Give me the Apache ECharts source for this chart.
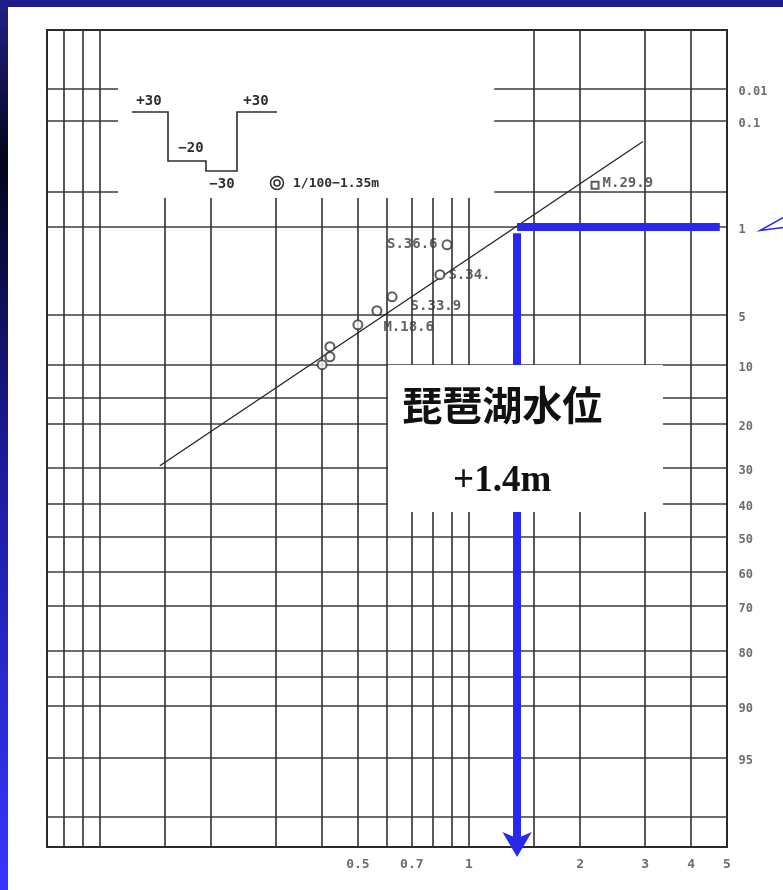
<!DOCTYPE html>
<html>
<head>
<meta charset="utf-8">
<title>琵琶湖水位 確率紙</title>
<script src="https://cdn.jsdelivr.net/npm/echarts@6/dist/echarts.min.js"></script>
<style>
  html, body { margin: 0; padding: 0; background: #ffffff; }
  #chart { width: 783px; height: 890px; }
</style>
</head>
<body>
<div id="chart"></div>
<script>
// ---- probability paper rulings ----
// water level axis (m, log ruled)
const xRulesFull  = [0.08, 0.09, 0.1, 1.5, 2, 3, 4];
const xRulesShort = [0.15, 0.2, 0.3, 0.4, 0.5, 0.6, 0.7, 0.8, 0.9, 1];
const xTickValues = [0.5, 0.7, 1, 2, 3, 4, 5];
const xTickLabels = ['0.5', '0.7', '1', '2', '3', '4', '5'];

// exceedance probability rulings (%), expressed as standard-normal scores of the paper
const yRuleLabels = ['0.01', '0.1', '', '1', '5', '10', '', '20', '30', '40', '50', '60', '70', '80', '', '90', '95', ''];
const yRuleScores = [3.361, 3.121, 2.588, 2.326, 1.665, 1.290, 1.043, 0.848, 0.518, 0.248, 0, -0.263, -0.518, -0.855, -1.050, -1.268, -1.658, -2.100];

// ---- observed annual maxima: [level m, exceedance %] ----
const obsLevel = [0.400, 0.420, 0.420, 0.500, 0.563, 0.619, 0.834, 0.872];
const obsExceed = [9.85, 8.85, 7.7, 5.6, 4.5, 3.6, 2.47, 1.43];
const obsNames  = ['', '', '', '', 'M.18.6', 'S.33.9', 'S.34.', 'S.36.6'];

const maxLevel = [2.195];
const maxExceed = [0.42];
const maxNames = ['M.29.9'];

// fitted line end points: [level m, exceedance %]
const fitLevel = [0.1454, 2.96];
const fitExceed = [29.7, 0.152];

// design level at 1/100
const designExceed = 1;
const designLevel = 1.35;

// ---- axis extents ----
const X_MIN = 0.0719, X_MAX = 5;
const Z_MIN = -2.326, Z_MAX = 3.80;
// blank area of the sheet holding the key sketch
const keyArea = { x0: 0.112, x1: 1.17, z0: 2.54 };

// inverse standard normal CDF (Acklam)
function normInv(p) {
  const a = [-3.969683028665376e+01, 2.209460984245205e+02, -2.759285104469687e+02, 1.383577518672690e+02, -3.066479806614716e+01, 2.506628277459239e+00];
  const b = [-5.447609879822406e+01, 1.615858368580409e+02, -1.556989798598866e+02, 6.680131188771972e+01, -1.328068155288572e+01];
  const c = [-7.784894002430293e-03, -3.223964580411365e-01, -2.400758277161838e+00, -2.549732539343734e+00, 4.374664141464968e+00, 2.938163982698783e+00];
  const d = [7.784695709041462e-03, 3.224671290700398e-01, 2.445134137142996e+00, 3.754408661907416e+00];
  const pl = 0.02425;
  let q, r;
  if (p < pl) {
    q = Math.sqrt(-2 * Math.log(p));
    return (((((c[0]*q+c[1])*q+c[2])*q+c[3])*q+c[4])*q+c[5]) / ((((d[0]*q+d[1])*q+d[2])*q+d[3])*q+1);
  }
  if (p > 1 - pl) {
    q = Math.sqrt(-2 * Math.log(1 - p));
    return -(((((c[0]*q+c[1])*q+c[2])*q+c[3])*q+c[4])*q+c[5]) / ((((d[0]*q+d[1])*q+d[2])*q+d[3])*q+1);
  }
  q = p - 0.5; r = q * q;
  return (((((a[0]*r+a[1])*r+a[2])*r+a[3])*r+a[4])*r+a[5])*q / (((((b[0]*r+b[1])*r+b[2])*r+b[3])*r+b[4])*r+1);
}
// exceedance % -> score on the paper (rare events at the top)
const score = pct => -normInv(pct / 100);

// ---- grid segments ----
const gridSegs = [];
xRulesFull.forEach(v => gridSegs.push({ coords: [[v, Z_MIN], [v, Z_MAX]] }));
xRulesShort.forEach(v => gridSegs.push({ coords: [[v, Z_MIN], [v, keyArea.z0]] }));
yRuleScores.forEach(z => {
  if (z > keyArea.z0) {
    gridSegs.push({ coords: [[X_MIN, z], [keyArea.x0, z]] });
    gridSegs.push({ coords: [[keyArea.x1, z], [X_MAX, z]] });
  } else {
    gridSegs.push({ coords: [[X_MIN, z], [X_MAX, z]] });
  }
});

const MONO = '"DejaVu Sans Mono", "Liberation Mono", monospace';
const INK = '#2e2e2e';
const BLUE = '#2727f0';
const HIDDEN = 'rgba(0,0,0,0)';

const obsData = obsLevel.map((v, i) => {
  const item = { value: [v, score(obsExceed[i])], name: obsNames[i] };
  if (obsNames[i] === 'S.36.6') item.label = { show: true, position: 'left', distance: 4 };
  if (obsNames[i] === 'S.34.') item.label = { show: true, position: 'right', distance: 3, offset: [0, 1] };
  if (obsNames[i] === 'S.33.9') item.label = { show: true, position: 'right', distance: 5, offset: [8, 10] };
  if (obsNames[i] === 'M.18.6') item.label = { show: true, position: 'right', distance: 5, offset: [-4, 17] };
  return item;
});
const maxData = maxLevel.map((v, i) => ({ value: [v, score(maxExceed[i])], name: maxNames[i] }));

const zDesign = score(designExceed);

const chart = echarts.init(document.getElementById('chart'), null, { renderer: 'canvas' });

const option = {
  backgroundColor: '#ffffff',
  animation: false,
  grid: {
    left: 47, top: 30, right: 56, bottom: 43,
    show: true, borderColor: '#2a2a2a', borderWidth: 2, backgroundColor: 'transparent'
  },
  xAxis: {
    type: 'log', logBase: 10, min: X_MIN, max: X_MAX,
    axisLine: { show: false }, axisTick: { show: false }, axisLabel: { show: false }, splitLine: { show: false }
  },
  yAxis: {
    type: 'value', min: Z_MIN, max: Z_MAX,
    axisLine: { show: false }, axisTick: { show: false }, axisLabel: { show: false }, splitLine: { show: false }
  },
  series: [
    {
      name: 'rulings', type: 'lines', coordinateSystem: 'cartesian2d', silent: true, z: 1,
      lineStyle: { color: '#333333', width: 1.7, opacity: 0.95 },
      data: gridSegs
    },
    {
      name: 'fit', type: 'line', silent: true, z: 3, symbol: 'none',
      lineStyle: { color: '#222', width: 1.3 },
      data: fitLevel.map((v, i) => [v, score(fitExceed[i])])
    },
    {
      name: 'observed', type: 'scatter', z: 4, symbol: 'emptyCircle', symbolSize: 9,
      itemStyle: { color: '#333', borderWidth: 1.3 },
      label: {
        show: false, formatter: '{b}', color: '#3a3a3a', fontFamily: MONO, fontSize: 14, fontWeight: 'bold'
      },
      data: obsData
    },
    {
      name: 'record', type: 'scatter', z: 4, symbol: 'emptyRect', symbolSize: 7,
      itemStyle: { color: '#333', borderWidth: 1.2 },
      label: {
        show: true, position: 'right', distance: 3, offset: [0, -2], formatter: '{b}',
        color: '#3a3a3a', fontFamily: MONO, fontSize: 14, fontWeight: 'bold'
      },
      data: maxData
    },
    {
      name: 'prob labels', type: 'scatter', silent: true, symbol: 'circle', symbolSize: 1, clip: false, z: 5,
      itemStyle: { color: HIDDEN },
      label: {
        show: true, position: 'right', distance: 11, offset: [0, 3], formatter: '{b}',
        color: '#474747', fontFamily: MONO, fontSize: 12, fontWeight: 'bold'
      },
      data: yRuleScores.map((z, i) => ({ value: [X_MAX, z], name: yRuleLabels[i] })).filter(d => d.name)
    },
    {
      name: 'level labels', type: 'scatter', silent: true, symbol: 'circle', symbolSize: 1, clip: false, z: 5,
      itemStyle: { color: HIDDEN },
      label: {
        show: true, position: 'bottom', distance: 11, formatter: '{b}',
        color: '#474747', fontFamily: MONO, fontSize: 13, fontWeight: 'bold'
      },
      data: xTickValues.map((v, i) => ({ value: [v, Z_MIN], name: xTickLabels[i] }))
    },
    {
      name: 'design h', type: 'lines', coordinateSystem: 'cartesian2d', silent: true, z: 6, clip: false,
      lineStyle: { color: BLUE, width: 8, opacity: 1, cap: 'butt' },
      data: [{ coords: [[designLevel, zDesign], [4.78, zDesign]] }]
    },
    {
      name: 'design v', type: 'lines', coordinateSystem: 'cartesian2d', silent: true, z: 6, clip: false,
      lineStyle: { color: BLUE, width: 8, opacity: 1, cap: 'butt' },
      data: [{ coords: [[designLevel, zDesign - 0.05], [designLevel, Z_MIN - 0.02]] }]
    },
    {
      name: 'design v head', type: 'scatter', silent: true, z: 6, clip: false,
      symbol: 'arrow', symbolRotate: 180, symbolSize: [22, 25],
      itemStyle: { color: BLUE, opacity: 1 },
      data: [[designLevel, Z_MIN - 0.075]]
    }
  ]
};
chart.setOption(option);

// ---- annotations ----
const pY = z => chart.convertToPixel({ gridIndex: 0 }, [1, z])[1];
const pX = v => chart.convertToPixel({ gridIndex: 0 }, [v, 0])[0];
const yDesign = pY(zDesign);
const cx = (pX(0.56) + pX(2.7)) / 2;

chart.setOption({
  graphic: [
    // sheet border
    { type: 'rect', z: 200, shape: { x: 0, y: 0, width: 8, height: 890 }, style: {
      fill: new echarts.graphic.LinearGradient(0, 0, 0, 1, [
        { offset: 0, color: '#20208c' }, { offset: 0.18, color: '#04041a' },
        { offset: 0.5, color: '#1a1a96' }, { offset: 1, color: '#3636ff' }
      ]) } },
    { type: 'rect', z: 200, shape: { x: 0, y: 0, width: 783, height: 7 }, style: { fill: '#1c1c8a' } },

    // key sketch: section profile
    { type: 'polyline', z: 50, shape: { points: [[132,112],[168,112],[168,161],[206,161],[206,171],[237,171],[237,112],[277,112]] },
      style: { stroke: INK, lineWidth: 1.6, fill: null } },
    { type: 'text', z: 50, style: { text: '+30', x: 149, y: 101, font: 'bold 14px ' + MONO, fill: INK, align: 'center', verticalAlign: 'middle' } },
    { type: 'text', z: 50, style: { text: '−20', x: 191, y: 148, font: 'bold 14px ' + MONO, fill: INK, align: 'center', verticalAlign: 'middle' } },
    { type: 'text', z: 50, style: { text: '−30', x: 222, y: 184, font: 'bold 14px ' + MONO, fill: INK, align: 'center', verticalAlign: 'middle' } },
    { type: 'text', z: 50, style: { text: '+30', x: 256, y: 101, font: 'bold 14px ' + MONO, fill: INK, align: 'center', verticalAlign: 'middle' } },
    { type: 'circle', z: 50, shape: { cx: 277, cy: 183, r: 6.5 }, style: { stroke: INK, lineWidth: 1.5, fill: null } },
    { type: 'circle', z: 50, shape: { cx: 277, cy: 183, r: 3 }, style: { stroke: INK, lineWidth: 1.5, fill: null } },
    { type: 'text', z: 50, style: { text: '1/100−' + designLevel.toFixed(2) + 'm', x: 293, y: 184, font: 'bold 13px ' + MONO, fill: INK, align: 'left', verticalAlign: 'middle' } },

    // caption box
    { type: 'rect', z: 100, shape: { x: 388, y: 365, width: 275, height: 147 }, style: { fill: '#ffffff' } },
    { type: 'text', z: 101, style: { text: '琵琶湖水位', x: cx, y: 405, font: 'bold 40px "Noto Sans CJK JP"', fill: '#111', align: 'center', verticalAlign: 'middle' } },
    { type: 'text', z: 101, style: { text: '+' + designLevel.toFixed(1) + 'm', x: cx, y: 481, font: 'bold 37px "Liberation Serif", serif', fill: '#111', align: 'center', verticalAlign: 'middle' } },

    // pointer at the 1 % mark
    { type: 'polyline', z: 60, shape: { points: [[783, yDesign - 9], [760, yDesign + 4], [783, yDesign + 1]] },
      style: { stroke: BLUE, lineWidth: 1.5, fill: null } }
  ]
});
</script>
</body>
</html>
